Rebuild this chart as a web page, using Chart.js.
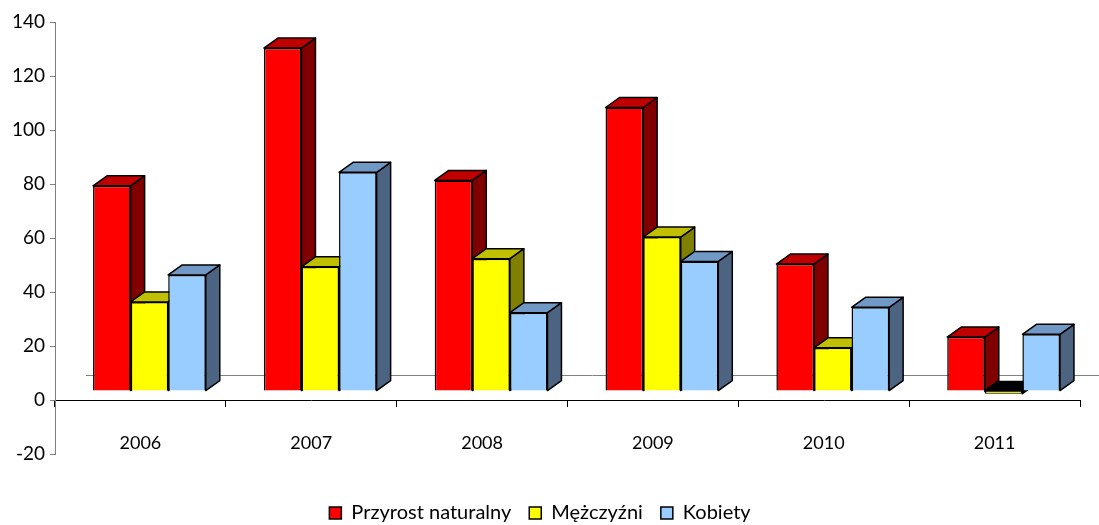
<!DOCTYPE html>
<html>
<head>
<meta charset="utf-8">
<script src="https://cdn.jsdelivr.net/npm/chart.js@4.4.0/dist/chart.umd.min.js"></script>
<style>
html, body { margin: 0; padding: 0; background: #fff; }
#wrap { width: 1099px; height: 525px; }
</style>
</head>
<body>
<div id="wrap"><canvas id="przyrostChart"></canvas></div>
<script>
// Chart data
const years = ['2006', '2007', '2008', '2009', '2010', '2011'];
const przyrostNaturalny = [76, 127, 78, 105, 47, 20];
const mezczyzni = [33, 46, 49, 57, 16, -1];
const kobiety = [43, 81, 29, 48, 31, 21];

// Colours of the front, top and side faces
const frontColors = ['#FF0000', '#FFFF00', '#99CCFF'];
const topColors = ['#C00000', '#C0C000', '#7099C6'];
const sideColors = ['#800000', '#808000', '#4C6482'];

// Draws the depth (top + side faces) of every bar and shifts the fronts
const bars3d = {
    id: 'bars3d',
    beforeDatasetsDraw(chart) {
        const ctx = chart.ctx;
        const xScale = chart.scales.x;
        const yScale = chart.scales.y;
        const zeroY = yScale.getPixelForValue(0);

        // back floor line
        ctx.save();
        ctx.strokeStyle = '#808080';
        ctx.lineWidth = 1;
        ctx.beginPath();
        ctx.moveTo(xScale.left + 31, Math.round(zeroY - 25) + 0.5);
        ctx.lineTo(chart.width, Math.round(zeroY - 25) + 0.5);
        ctx.stroke();
        ctx.restore();

        // shift everything that follows (restored in afterDatasetsDraw)
        ctx.save();
        ctx.translate(9, -9);

        const dx = 14, dy = -10;
        const count = chart.data.labels.length;
        for (let i = 0; i < count; i++) {
            chart.data.datasets.forEach((ds, d) => {
                const el = chart.getDatasetMeta(d).data[i];
                const { x, y, base, width } = el.getProps(['x', 'y', 'base', 'width'], true);
                const top = Math.min(y, base);
                const bottom = Math.max(y, base);
                const left = x - width / 2;
                const right = x + width / 2;
                const negative = ds.data[i] < 0;

                ctx.save();
                ctx.lineWidth = 1.5;
                ctx.lineJoin = 'round';
                ctx.strokeStyle = '#000';

                // side face
                ctx.beginPath();
                ctx.moveTo(right, top);
                ctx.lineTo(right + dx, top + dy);
                ctx.lineTo(right + dx, bottom + dy);
                ctx.lineTo(right, bottom);
                ctx.closePath();
                ctx.fillStyle = negative ? '#000' : sideColors[d];
                ctx.fill();
                ctx.stroke();

                // top face
                ctx.beginPath();
                ctx.moveTo(left, top);
                ctx.lineTo(left + dx, top + dy);
                ctx.lineTo(right + dx, top + dy);
                ctx.lineTo(right, top);
                ctx.closePath();
                ctx.fillStyle = negative ? '#000' : topColors[d];
                ctx.fill();
                ctx.stroke();
                ctx.restore();
            });
        }
    },
    afterDatasetsDraw(chart) {
        chart.ctx.restore();
    }
};

Chart.defaults.font.family = 'Lato, "Open Sans", sans-serif';
Chart.defaults.color = '#000';

const ctxPrzyrost = document.getElementById('przyrostChart').getContext('2d');
const przyrostChart = new Chart(ctxPrzyrost, {
    type: 'bar',
    data: {
        labels: years,
        datasets: [
            { label: 'Przyrost naturalny', data: przyrostNaturalny, backgroundColor: frontColors[0] },
            { label: 'Mężczyźni', data: mezczyzni, backgroundColor: frontColors[1] },
            { label: 'Kobiety', data: kobiety, backgroundColor: frontColors[2] }
        ]
    },
    options: {
        responsive: true,
        maintainAspectRatio: false,
        animation: false,
        datasets: {
            bar: {
                borderColor: '#000',
                borderWidth: 1.5,
                barPercentage: 1,
                categoryPercentage: 0.66
            }
        },
        layout: {
            padding: { left: 0, right: 19, top: 22, bottom: -8 }
        },
        scales: {
            x: {
                position: { y: 0 },
                offset: true,
                grid: {
                    offset: true,
                    drawOnChartArea: false,
                    tickLength: 6,
                    color: '#000'
                },
                border: { color: '#000', width: 1 },
                ticks: { font: { size: 18 }, padding: 26, maxRotation: 0 }
            },
            y: {
                min: -20,
                max: 140,
                ticks: { stepSize: 20, font: { size: 19 }, padding: 5 },
                grid: { drawOnChartArea: false, tickLength: 5, color: '#808080' },
                border: { color: '#808080' },
                afterFit(scale) { scale.width = 55; }
            }
        },
        plugins: {
            legend: {
                position: 'bottom',
                title: { display: true, text: ' ', font: { size: 25.8 }, padding: 0 },
                labels: {
                    boxWidth: 12,
                    boxHeight: 12,
                    padding: 18,
                    font: { size: 20 }
                }
            },
            tooltip: { enabled: false }
        }
    },
    plugins: [bars3d]
});
</script>
</body>
</html>
